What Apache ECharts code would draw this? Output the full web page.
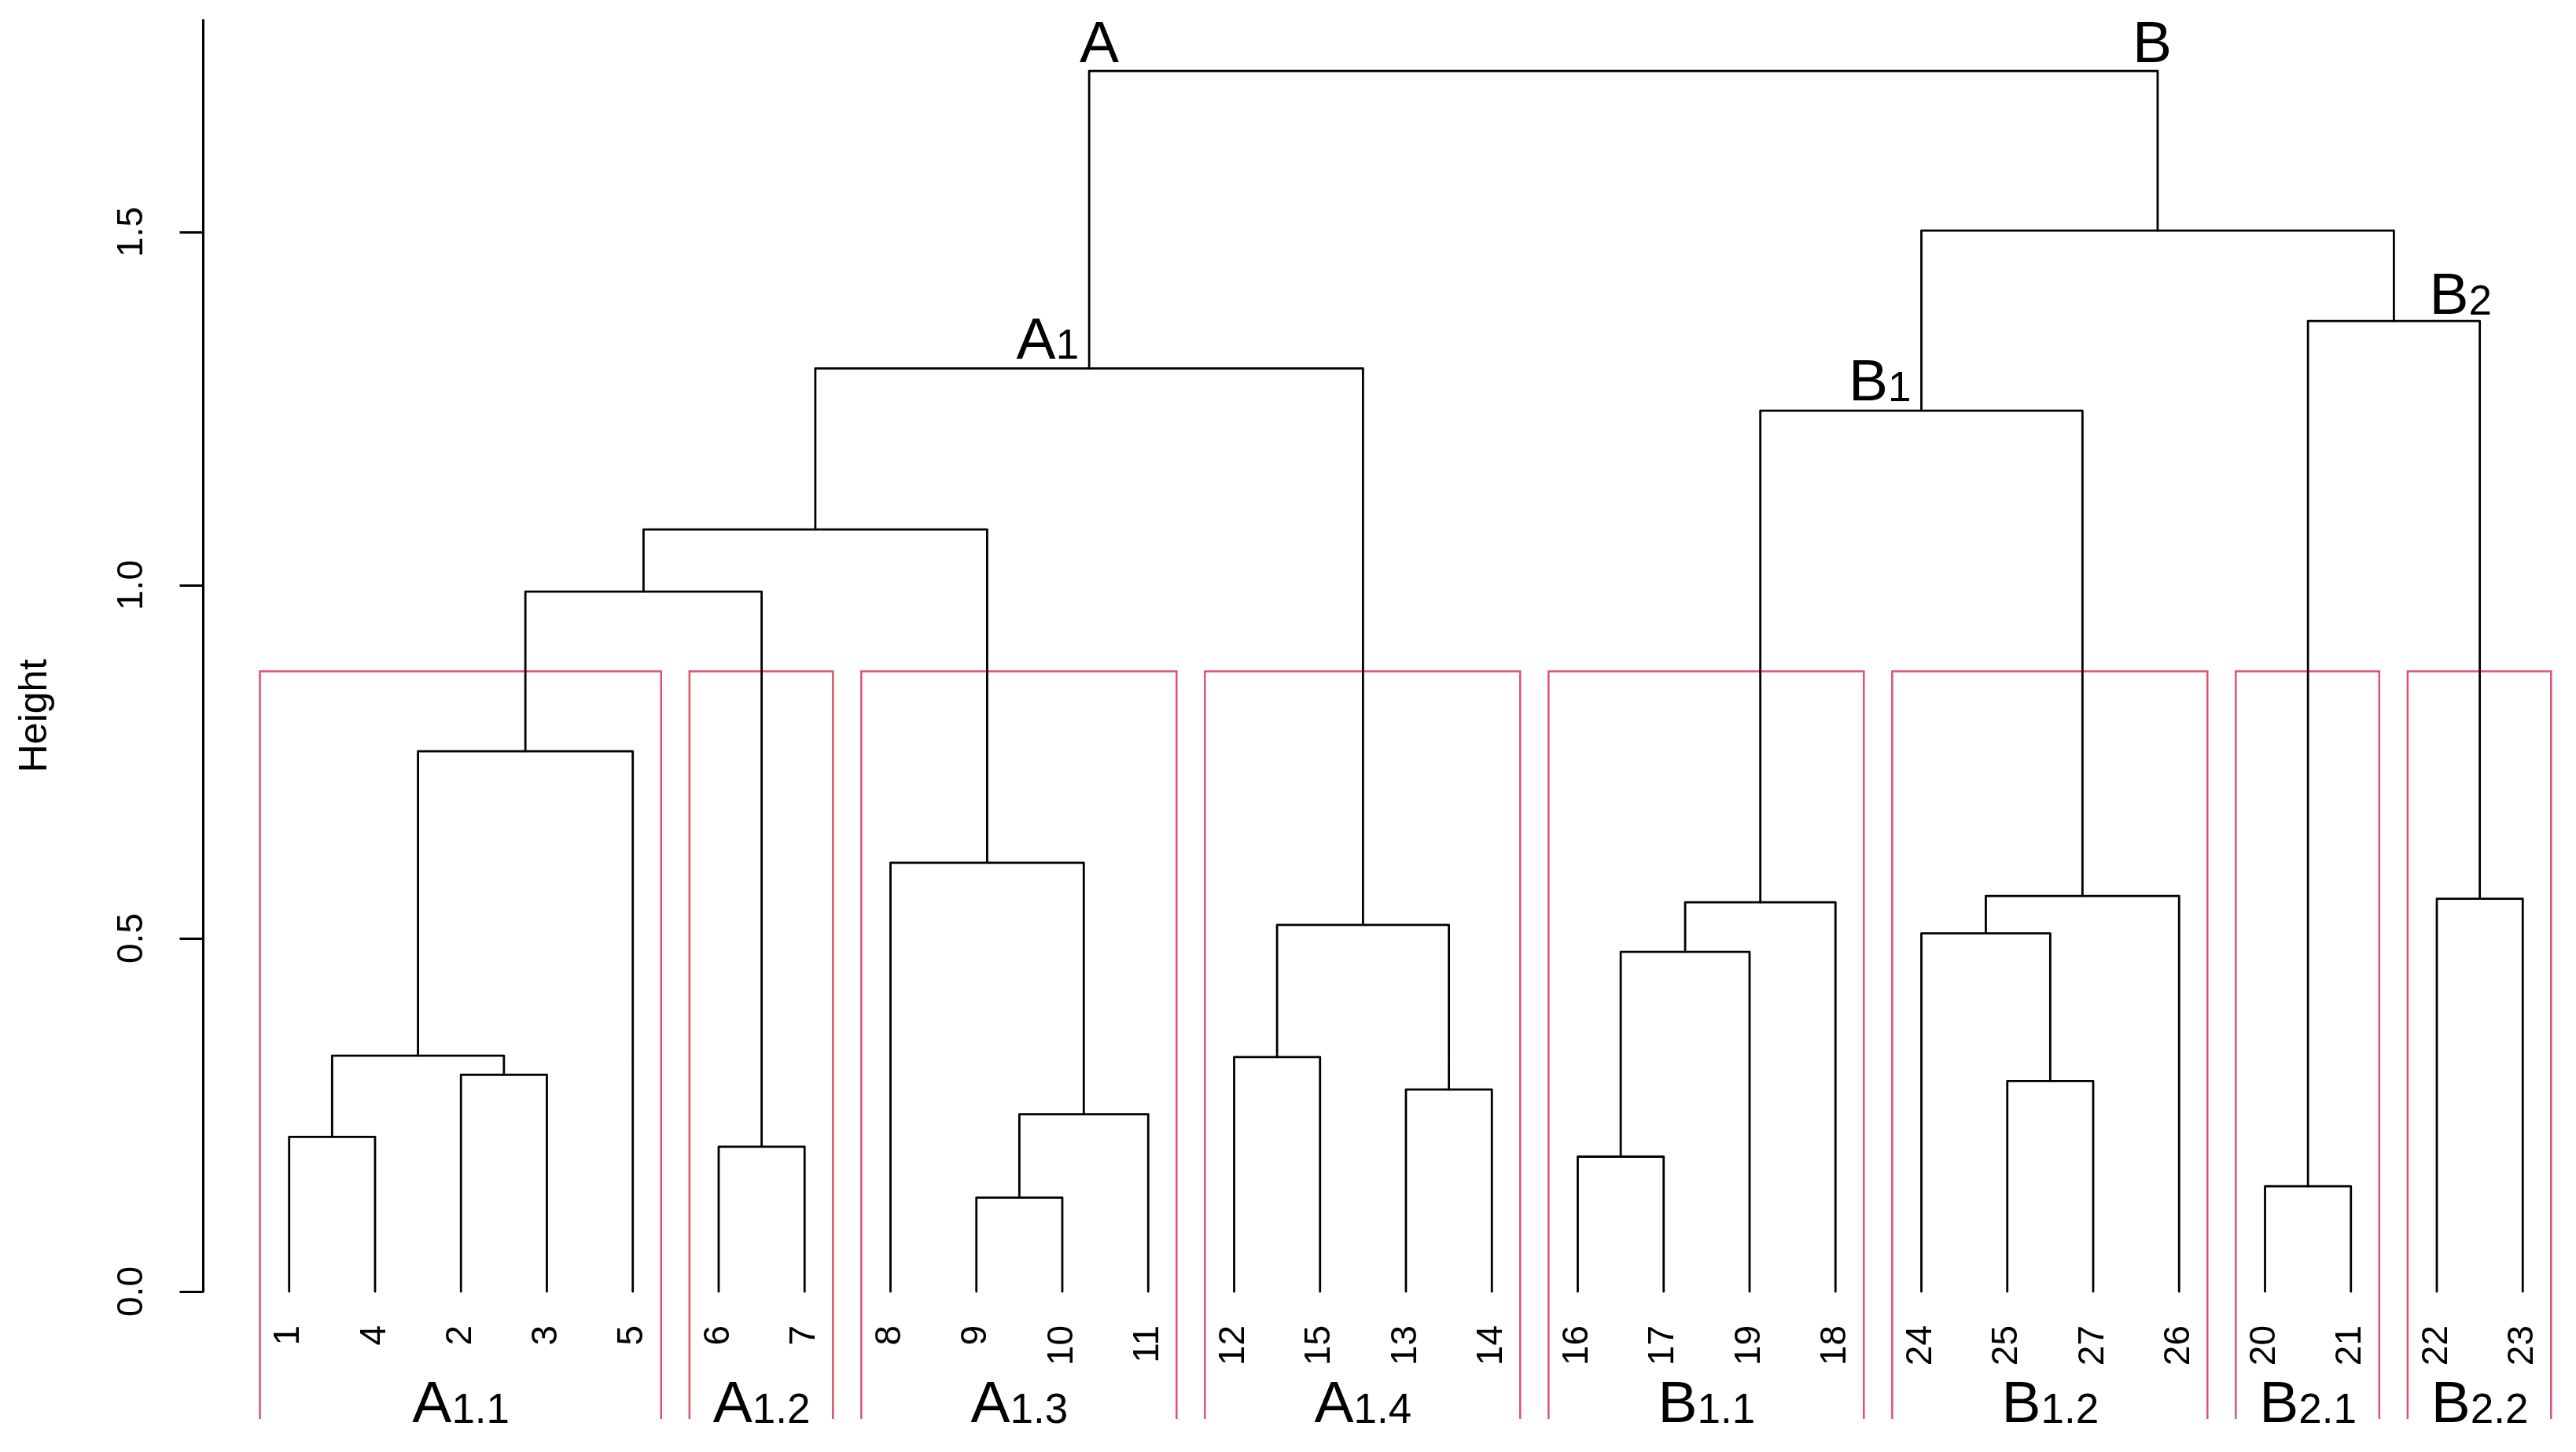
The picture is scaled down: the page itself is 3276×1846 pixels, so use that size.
<!DOCTYPE html>
<html><head><meta charset="utf-8">
<script src="https://cdn.jsdelivr.net/npm/echarts@6/dist/echarts.min.js"></script>
<style>html,body{margin:0;padding:0;background:#fff}#c{width:3276px;height:1846px}</style>
</head><body><div id="c"></div>
<script>
// ---------- data ----------
const leafLabels = ['1','4','2','3','5','6','7','8','9','10','11','12','15','13','14','16','17','19','18','24','25','27','26','20','21','22','23'];
// R-style merge matrix: negative = observation (leaf label), positive = earlier merge step (1-based)
const mergeLeft   = [-9,-20,-16,-6,-1, 1,-13,-25,-2,-12, 5, 3,-24,10,12,-22,13,-8,11,19,20,15,21, 2,22,23];
const mergeRight  = [-10,-21,-17,-7,-4,-11,-14,-27,-3,-15, 9,-19, 8, 7,-18,-23,-26, 6,-5, 4,18,17,14,16,24,25];
const mergeHeight = [0.133,0.149,0.191,0.205,0.219,0.251,0.286,0.298,0.307,0.332,0.334,0.481,0.507,0.519,0.551,0.556,0.560,0.607,0.765,0.991,1.079,1.247,1.307,1.374,1.502,1.728];
const clusterNames = ['A1.1','A1.2','A1.3','A1.4','B1.1','B1.2','B2.1','B2.2'];
const clusterSizes = [5,2,4,4,4,4,2,2];
const nodeNames  = ['A','B','A1','B1','B2'];
const nodeXMerge = [23,25,23,22,24];   // merge whose x the label sits on
const nodeYMerge = [26,26,23,22,24];   // merge whose height the label sits on
const yTicks = [0, 0.5, 1.0, 1.5];

// ---------- layout from data ----------
const leafPos = {};
leafLabels.forEach((l, i) => { leafPos[+l] = i + 1; });
const nodeX = [];
const posOf = id => id < 0 ? leafPos[-id] : nodeX[id - 1];
const htOf = id => id < 0 ? 0 : mergeHeight[id - 1];
for (let i = 0; i < mergeHeight.length; i++) nodeX[i] = (posOf(mergeLeft[i]) + posOf(mergeRight[i])) / 2;
const segData = mergeHeight.map((h, i) => [posOf(mergeLeft[i]), htOf(mergeLeft[i]), posOf(mergeRight[i]), htOf(mergeRight[i]), h]);

const k = clusterSizes.length;
const sortedH = mergeHeight.slice().sort((a, b) => b - a);
const cutH = (sortedH[k - 2] + sortedH[k - 1]) / 2;
const rectData = [];
const groupData = [];
let start = 1;
clusterSizes.forEach((s, i) => {
  const end = start + s - 1;
  rectData.push([start - 0.34, end + 0.33, cutH]);
  groupData.push([(start + end) / 2, i]);
  start = end + 1;
});
const nodeLabelData = nodeNames.map((n, i) => [nodeX[nodeXMerge[i] - 1], mergeHeight[nodeYMerge[i] - 1], i]);

// ---------- styles ----------
const FONT = 'Liberation Sans';
const BIG = 75, SUB = 53;
const rich = {
  b: {fontSize: BIG, fontFamily: FONT, color: '#000', verticalAlign: 'bottom', lineHeight: 90},
  s: {fontSize: SUB, fontFamily: FONT, color: '#000', verticalAlign: 'bottom', lineHeight: 90, padding: [0, 0, 4, 0]}
};
const richText = name => '{b|' + name[0] + '}' + (name.length > 1 ? '{s|' + name.slice(1) + '}' : '');
const nodeLabelStyle = [
  {align: 'left', dx: -12, dy: -8},
  {align: 'left', dx: -32, dy: -8},
  {align: 'right', dx: -13, dy: -10},
  {align: 'right', dx: -13, dy: -10},
  {align: 'left', dx: 45, dy: -6}
];

const chart = echarts.init(document.getElementById('c'), null, {renderer: 'canvas'});
chart.setOption({
  animation: false,
  backgroundColor: '#fff',
  grid: {left: 253, right: 0, top: 25.6, bottom: 204, containLabel: false},
  xAxis: {
    type: 'value', min: -0.05, max: 27.62,
    axisLine: {show: false}, axisTick: {show: false}, splitLine: {show: false},
    axisLabel: {
      customValues: leafLabels.map((l, i) => i + 1),
      formatter: v => leafLabels[Math.round(v) - 1] || '',
      rotate: 90, margin: 43, fontSize: 46, fontFamily: FONT, color: '#000'
    }
  },
  yAxis: {
    type: 'value', min: 0, max: 1.8,
    axisLine: {show: true, lineStyle: {color: '#000', width: 3}},
    axisTick: {show: true, length: 30, lineStyle: {color: '#000', width: 3}, customValues: yTicks},
    axisLabel: {customValues: yTicks, formatter: v => v.toFixed(1), rotate: 90, margin: 62,
      fontSize: 46, fontFamily: FONT, color: '#000'},
    splitLine: {show: false}
  },
  graphic: [{
    type: 'text', x: 45, y: 910, rotation: Math.PI / 2,
    style: {text: 'Height', fontSize: 50, fontFamily: FONT, fill: '#000', align: 'center', verticalAlign: 'middle'}
  }],
  series: [
    {
      type: 'custom', name: 'clusters', clip: false, silent: true,
      data: rectData, encode: {x: [0, 1], y: 2},
      renderItem: (params, api) => {
        const tl = api.coord([api.value(0), api.value(2)]);
        const tr = api.coord([api.value(1), api.value(2)]);
        const yb = api.coord([api.value(0), 0])[1] + 162;
        return {type: 'polyline', shape: {points: [[tl[0], yb], tl, tr, [tr[0], yb]]},
          style: {stroke: '#DF536B', lineWidth: 2.5, fill: null}};
      }
    },
    {
      type: 'custom', name: 'dendrogram', clip: false, silent: true,
      data: segData, encode: {x: [0, 2], y: [1, 3, 4]},
      renderItem: (params, api) => {
        const p1 = api.coord([api.value(0), api.value(1)]);
        const p2 = api.coord([api.value(0), api.value(4)]);
        const p3 = api.coord([api.value(2), api.value(4)]);
        const p4 = api.coord([api.value(2), api.value(3)]);
        return {type: 'polyline', shape: {points: [p1, p2, p3, p4]},
          style: {stroke: '#000', lineWidth: 2.8, fill: null, lineCap: 'round', lineJoin: 'round'}};
      }
    },
    {
      type: 'custom', name: 'groups', clip: false, silent: true,
      data: groupData, encode: {x: 0},
      renderItem: (params, api) => {
        const p = api.coord([api.value(0), 0]);
        return {type: 'text', x: p[0], y: p[1] + 183,
          style: {text: richText(clusterNames[api.value(1)]), rich: rich, align: 'center', verticalAlign: 'bottom'}};
      }
    },
    {
      type: 'custom', name: 'nodes', clip: false, silent: true,
      data: nodeLabelData, encode: {x: 0, y: 1},
      renderItem: (params, api) => {
        const i = api.value(2);
        const st = nodeLabelStyle[i];
        const p = api.coord([api.value(0), api.value(1)]);
        return {type: 'text', x: p[0] + st.dx, y: p[1] + st.dy + 14,
          style: {text: richText(nodeNames[i]), rich: rich, align: st.align, verticalAlign: 'bottom'}};
      }
    }
  ]
});
</script>
</body></html>
